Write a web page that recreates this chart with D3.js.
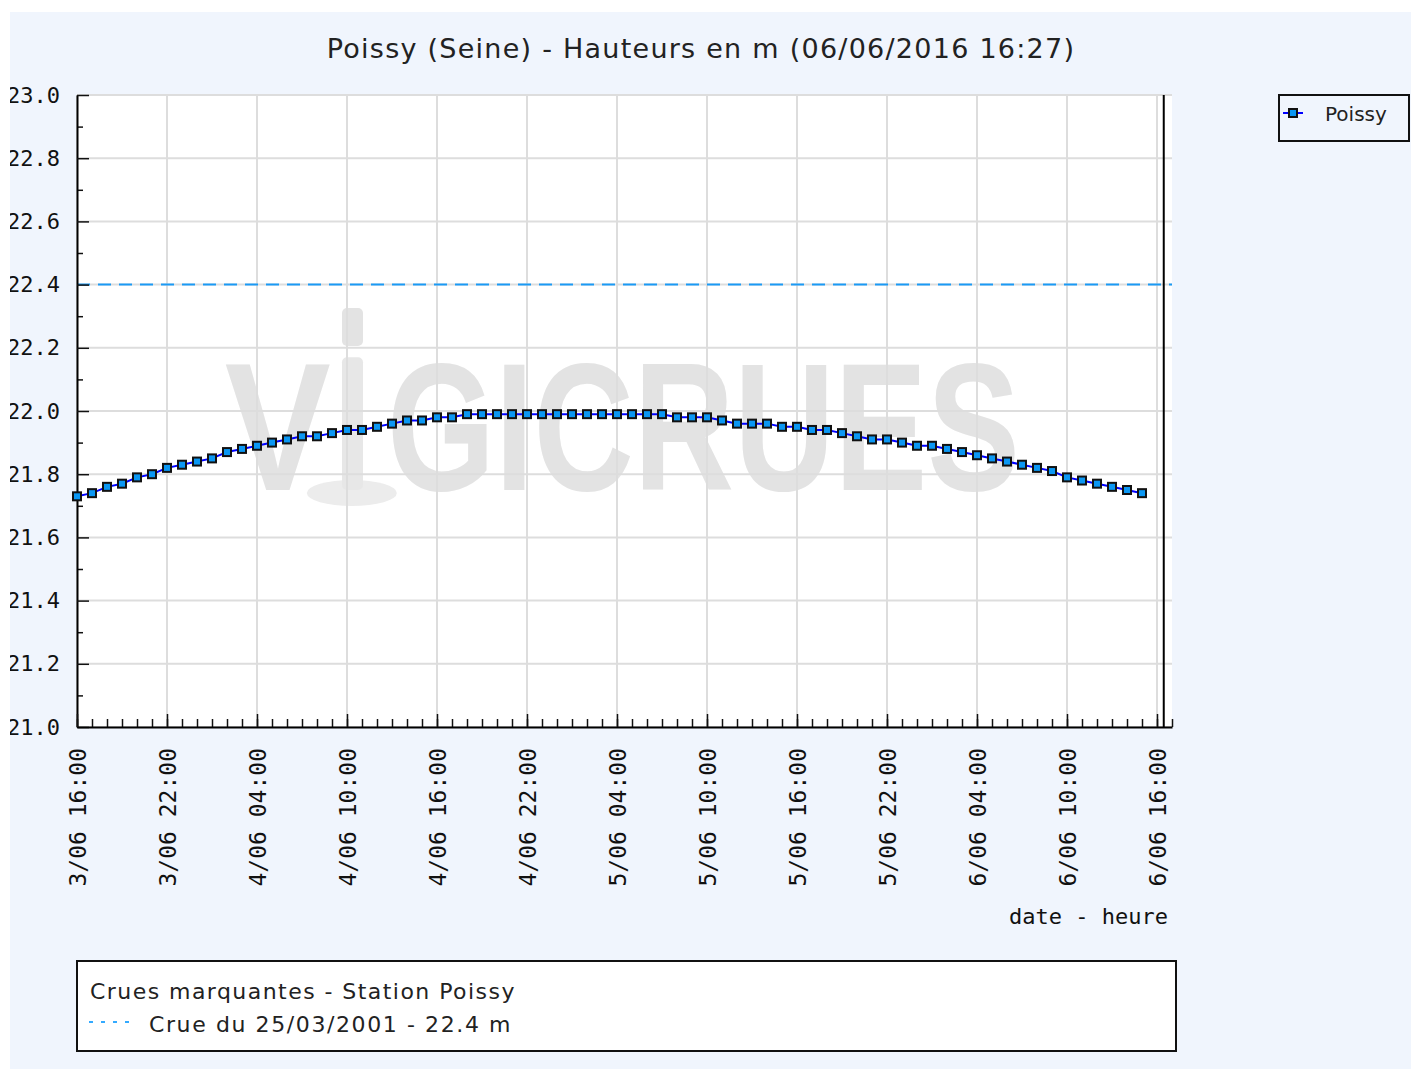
<!DOCTYPE html>
<html>
<head>
<meta charset="utf-8">
<script src="https://cdn.jsdelivr.net/npm/d3@7"></script>
<style>
  body { margin: 0; background: #ffffff; }
  svg { display: block; }
</style>
</head>
<body>
<svg id="chart" width="1411" height="1069"></svg>
<script>
// Hourly water levels at Poissy (Seine), in metres
const stationName = "Poissy";
const chartTitle = "Poissy (Seine) - Hauteurs en m (06/06/2016 16:27)";
const firstReading = "2016-06-03T16:00";
const axisEnd = "2016-06-06T17:00";
const lastUpdate = "2016-06-06T16:27";
const levels = [
  21.73, 21.74, 21.76, 21.77, 21.79, 21.80, 21.82, 21.83, 21.84, 21.85,
  21.87, 21.88, 21.89, 21.90, 21.91, 21.92, 21.92, 21.93, 21.94, 21.94,
  21.95, 21.96, 21.97, 21.97, 21.98, 21.98, 21.99, 21.99, 21.99, 21.99,
  21.99, 21.99, 21.99, 21.99, 21.99, 21.99, 21.99, 21.99, 21.99, 21.99,
  21.98, 21.98, 21.98, 21.97, 21.96, 21.96, 21.96, 21.95, 21.95, 21.94,
  21.94, 21.93, 21.92, 21.91, 21.91, 21.90, 21.89, 21.89, 21.88, 21.87,
  21.86, 21.85, 21.84, 21.83, 21.82, 21.81, 21.79, 21.78, 21.77, 21.76,
  21.75, 21.74
];
const yDomain = [21.0, 23.0];
const yMajorTicks = [21.0, 21.2, 21.4, 21.6, 21.8, 22.0, 22.2, 22.4, 22.6, 22.8, 23.0];
const yMinorTicks = [21.1, 21.3, 21.5, 21.7, 21.9, 22.1, 22.3, 22.5, 22.7, 22.9];
const xAxisTitle = "date - heure";
const floodBoxTitle = "Crues marquantes - Station Poissy";
const floodLevel = 22.4;
const floodLabel = "Crue du 25/03/2001 - 22.4 m";
const watermarkText = ["V", "GICRUES"];

const parse = d3.timeParse("%Y-%m-%dT%H:%M");
const t0 = parse(firstReading);
const tEnd = parse(axisEnd);
const series = levels.map((v, i) => ({ t: d3.timeHour.offset(t0, i), v }));

const W = 1411, H = 1069;
const panel = { x: 10, y: 12, w: W - 10, h: H - 12 };
const plot = { left: 77, top: 95, right: 1172, bottom: 727 };

const monoFont = "'DejaVu Sans Mono', monospace";
const sansFont = "'DejaVu Sans', Verdana, sans-serif";

const svg = d3.select("#chart");

const defs = svg.append("defs");
defs.append("clipPath").attr("id", "panelClip")
  .append("rect").attr("x", panel.x).attr("y", panel.y).attr("width", panel.w).attr("height", panel.h);
defs.append("clipPath").attr("id", "plotClip")
  .append("rect").attr("x", plot.left).attr("y", plot.top)
  .attr("width", plot.right - plot.left).attr("height", plot.bottom - plot.top);

const root = svg.append("g").attr("clip-path", "url(#panelClip)");

root.append("rect")
  .attr("x", panel.x).attr("y", panel.y).attr("width", panel.w).attr("height", panel.h)
  .attr("fill", "#f0f5fd");

const x = d3.scaleTime().domain([t0, tEnd]).range([plot.left, plot.right]);
const y = d3.scaleLinear().domain(yDomain).range([plot.bottom, plot.top]);

// plot background
root.append("rect")
  .attr("x", plot.left).attr("y", plot.top)
  .attr("width", plot.right - plot.left).attr("height", plot.bottom - plot.top)
  .attr("fill", "#ffffff");

// watermark logo
const pw = plot.right - plot.left, ph = plot.bottom - plot.top;
const wm = root.append("g").attr("clip-path", "url(#plotClip)");
const wmBase = plot.top + ph * 0.625;
const wmFont = "'Liberation Sans', Arial, sans-serif";
wm.append("ellipse")
  .attr("cx", plot.left + pw * 0.251).attr("cy", wmBase + 3)
  .attr("rx", 45).attr("ry", 13).attr("fill", "#ececec");
wm.append("text")
  .attr("x", plot.left + pw * 0.135).attr("y", wmBase)
  .attr("font-family", wmFont).attr("font-weight", "bold").attr("font-size", 182)
  .attr("textLength", 106).attr("lengthAdjust", "spacingAndGlyphs")
  .attr("fill", "#e3e3e3").text(watermarkText[0]);
wm.append("rect")
  .attr("x", plot.left + pw * 0.242).attr("y", plot.top + ph * 0.337)
  .attr("width", 21).attr("height", 38).attr("rx", 5).attr("fill", "#e3e3e3");
wm.append("rect")
  .attr("x", plot.left + pw * 0.242).attr("y", plot.top + ph * 0.415)
  .attr("width", 21).attr("height", ph * 0.21).attr("rx", 5).attr("fill", "#e7e7e7");
wm.append("text")
  .attr("x", plot.left + pw * 0.283).attr("y", wmBase)
  .attr("font-family", wmFont).attr("font-weight", "bold").attr("font-size", 182)
  .attr("textLength", 633).attr("lengthAdjust", "spacingAndGlyphs")
  .attr("fill", "#e3e3e3").text(watermarkText[1]);

// time ticks: one per hour, labelled every 6 hours
const xMinor = d3.timeHour.range(t0, d3.timeMinute.offset(tEnd, 1));
const xMajor = xMinor.filter((d, i) => i % 6 === 0);

// grid
const grid = root.append("g").attr("stroke", "#dddddd").attr("stroke-width", 2);
grid.selectAll("line.h").data(yMajorTicks).join("line")
  .attr("x1", plot.left).attr("x2", plot.right)
  .attr("y1", d => y(d)).attr("y2", d => y(d));
grid.selectAll("line.v").data(xMajor).join("line")
  .attr("x1", d => x(d)).attr("x2", d => x(d))
  .attr("y1", plot.top).attr("y2", plot.bottom);

// reference flood level
root.append("line")
  .attr("x1", plot.left).attr("x2", plot.right)
  .attr("y1", y(floodLevel)).attr("y2", y(floodLevel))
  .attr("stroke", "#1a9af5").attr("stroke-width", 2)
  .attr("stroke-dasharray", "13,8");

// time of last update
root.append("line")
  .attr("x1", x(parse(lastUpdate))).attr("x2", x(parse(lastUpdate)))
  .attr("y1", plot.top).attr("y2", plot.bottom)
  .attr("stroke", "#000").attr("stroke-width", 2);

// y axis
const yAxisG = root.append("g").attr("transform", `translate(${plot.left},0)`);
yAxisG.append("g")
  .call(d3.axisLeft(y).tickValues(yMinorTicks).tickSize(-6).tickSizeOuter(0).tickFormat(""))
  .call(g => g.select(".domain").remove());
yAxisG.append("g")
  .call(d3.axisLeft(y).tickValues(yMajorTicks).tickSize(-12).tickSizeOuter(0)
    .tickPadding(17).tickFormat(d3.format(".1f")))
  .call(g => g.select(".domain").attr("stroke-width", 2))
  .call(g => g.selectAll("text").attr("font-family", monoFont).attr("font-size", 22).attr("fill", "#111"));
yAxisG.selectAll(".tick line").attr("stroke", "#111").attr("stroke-width", 1.5);

// x axis
const fmt = d3.timeFormat("%-d/%m %H:%M");
const xAxisG = root.append("g").attr("transform", `translate(0,${plot.bottom})`);
xAxisG.append("g")
  .call(d3.axisBottom(x).tickValues(xMinor).tickSize(-8).tickSizeOuter(0).tickFormat(""))
  .call(g => g.select(".domain").remove());
xAxisG.append("g")
  .call(d3.axisBottom(x).tickValues(xMajor).tickSize(-13).tickSizeOuter(0).tickFormat(fmt))
  .call(g => g.select(".domain").attr("stroke-width", 2))
  .call(g => g.selectAll("text")
    .attr("font-family", monoFont).attr("font-size", 23).attr("fill", "#111")
    .attr("transform", "rotate(-90)")
    .attr("text-anchor", "end")
    .attr("x", -21).attr("y", 0).attr("dy", "0.35em"));
xAxisG.selectAll(".tick line").attr("stroke", "#111").attr("stroke-width", 1.5);

root.append("text")
  .attr("x", plot.right - 4).attr("y", 924)
  .attr("text-anchor", "end")
  .attr("font-family", monoFont).attr("font-size", 22).attr("fill", "#111")
  .text(xAxisTitle);

// series
const line = d3.line().x(d => x(d.t)).y(d => y(d.v));
root.append("path").datum(series)
  .attr("d", line).attr("fill", "none")
  .attr("stroke", "#0000ff").attr("stroke-width", 2);
root.append("g").selectAll("rect").data(series).join("rect")
  .attr("x", d => x(d.t) - 4).attr("y", d => y(d.v) - 4)
  .attr("width", 8).attr("height", 8)
  .attr("fill", "#0b97f3").attr("stroke", "#111").attr("stroke-width", 2);

// title
root.append("text")
  .attr("x", 701).attr("y", 58)
  .attr("text-anchor", "middle")
  .attr("font-family", sansFont).attr("font-size", 27).attr("fill", "#222")
  .attr("letter-spacing", 1.25)
  .text(chartTitle);

// series legend
const leg = root.append("g");
leg.append("rect")
  .attr("x", 1279).attr("y", 95).attr("width", 130).attr("height", 46)
  .attr("fill", "none").attr("stroke", "#111").attr("stroke-width", 2);
leg.append("line")
  .attr("x1", 1283).attr("x2", 1303).attr("y1", 113).attr("y2", 113)
  .attr("stroke", "#0000ff").attr("stroke-width", 2);
leg.append("rect")
  .attr("x", 1289).attr("y", 109).attr("width", 8).attr("height", 8)
  .attr("fill", "#0b97f3").attr("stroke", "#111").attr("stroke-width", 2);
leg.append("text")
  .attr("x", 1325).attr("y", 121)
  .attr("font-family", sansFont).attr("font-size", 20).attr("fill", "#222")
  .text(stationName);

// notable floods box
const fb = root.append("g");
fb.append("rect")
  .attr("x", 77).attr("y", 961).attr("width", 1099).attr("height", 90)
  .attr("fill", "#ffffff").attr("stroke", "#111").attr("stroke-width", 2);
fb.append("text")
  .attr("x", 90).attr("y", 999)
  .attr("font-family", sansFont).attr("font-size", 22).attr("fill", "#222")
  .attr("letter-spacing", 1.45)
  .text(floodBoxTitle);
fb.append("line")
  .attr("x1", 89).attr("x2", 134).attr("y1", 1022).attr("y2", 1022)
  .attr("stroke", "#33aaff").attr("stroke-width", 2)
  .attr("stroke-dasharray", "4,8");
fb.append("text")
  .attr("x", 149).attr("y", 1032)
  .attr("font-family", sansFont).attr("font-size", 22).attr("fill", "#222")
  .attr("letter-spacing", 1.6)
  .text(floodLabel);
</script>
</body>
</html>
